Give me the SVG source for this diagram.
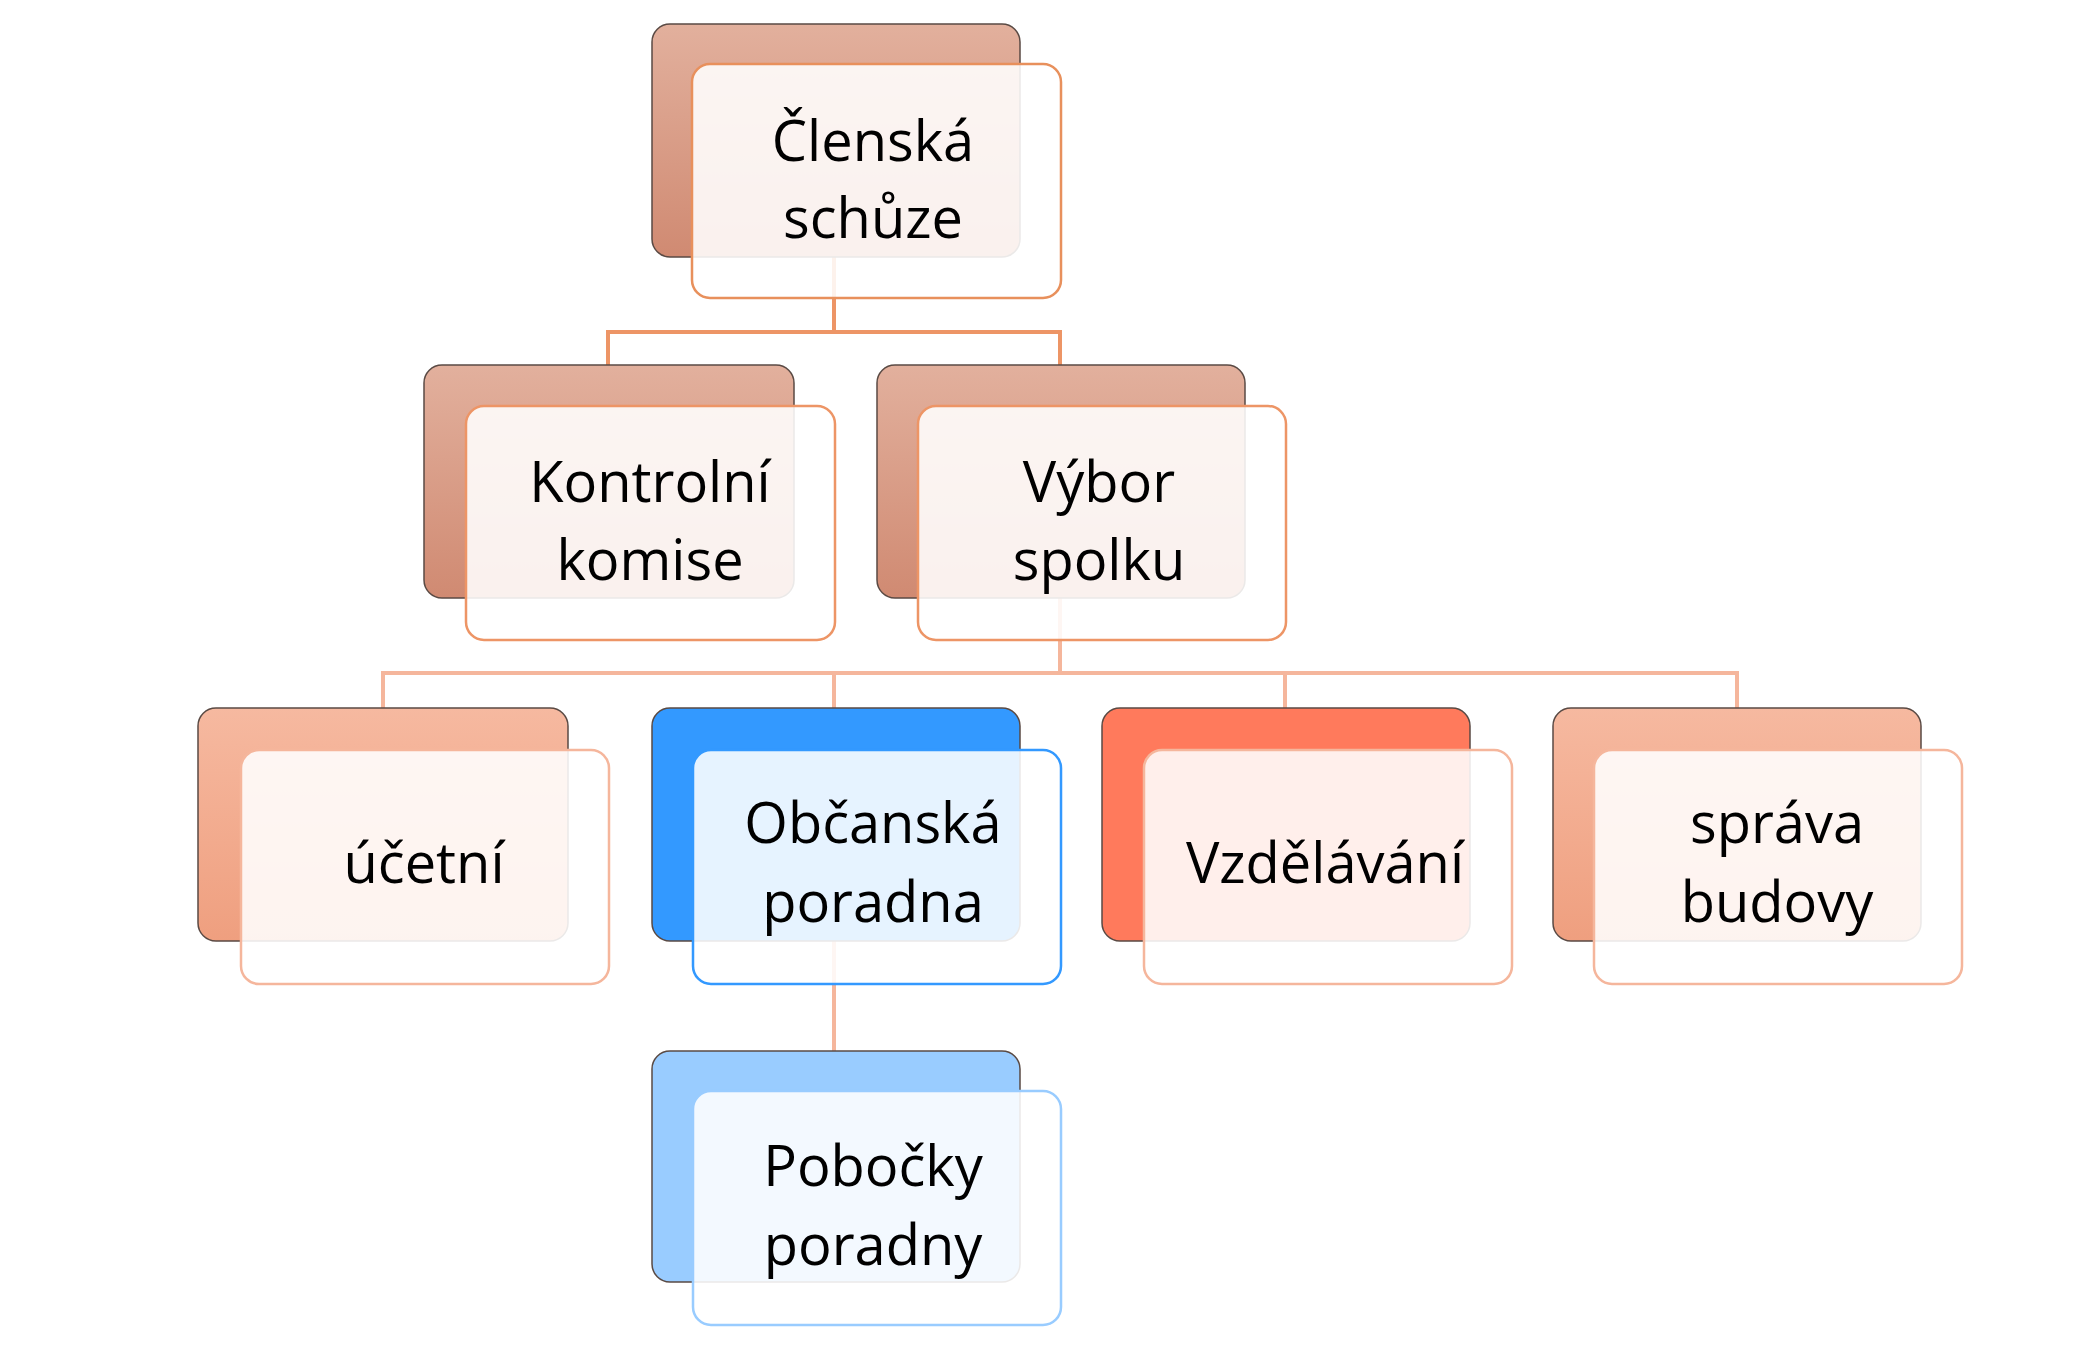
<svg xmlns="http://www.w3.org/2000/svg" width="2088" height="1366" viewBox="0 0 2088 1366">
<style>
.bk{stroke:#5a4a44;stroke-width:1.5}
.fr{fill:#ffffff;fill-opacity:0.88;stroke-width:2.5}
.t{font-family:"Open Sans","Noto Sans",sans-serif;font-size:56px;fill:#000;text-anchor:middle}
.c1{stroke:#ed9566;stroke-width:4;fill:none}
.c2{stroke:#f5b69c;stroke-width:4;fill:none}
</style>
<defs>
<linearGradient id="g1" x1="0" y1="0" x2="0" y2="1"><stop offset="0" stop-color="#e2b09d"/><stop offset="1" stop-color="#d08a72"/></linearGradient>
<linearGradient id="g2" x1="0" y1="0" x2="0" y2="1"><stop offset="0" stop-color="#f6b9a0"/><stop offset="1" stop-color="#ef9f7f"/></linearGradient>
</defs>
<rect width="2088" height="1366" fill="#fff"/>
<g id="connectors">
<path class="c1" d="M834 257V332M608 365V332H1060V365"/>
<path class="c2" d="M1060 598V673M383 708V673H1737V708M834 673V708M1285 673V708"/>
<path class="c2" d="M834 941V1051"/>
</g>
<g id="n1"><rect class="bk" x="652" y="24" width="368" height="233" rx="18" fill="url(#g1)"/><rect class="fr" x="692" y="64" width="369" height="234" rx="18" stroke="#e8905c"/><text class="t" x="873" y="161">Členská</text><text class="t" x="873" y="238">schůze</text></g>
<g id="n2"><rect class="bk" x="424" y="365" width="370" height="233" rx="18" fill="url(#g1)"/><rect class="fr" x="466" y="406" width="369" height="234" rx="18" stroke="#ed9566"/><text class="t" x="650" y="502">Kontrolní</text><text class="t" x="650" y="580">komise</text></g>
<g id="n3"><rect class="bk" x="877" y="365" width="368" height="233" rx="18" fill="url(#g1)"/><rect class="fr" x="918" y="406" width="368" height="234" rx="18" stroke="#ed9566"/><text class="t" x="1099" y="502">Výbor</text><text class="t" x="1099" y="580">spolku</text></g>
<g id="n4"><rect class="bk" x="198" y="708" width="370" height="233" rx="18" fill="url(#g2)"/><rect class="fr" x="241" y="750" width="368" height="234" rx="18" stroke="#f5b69c"/><text class="t" x="424" y="883">účetní</text></g>
<g id="n5"><rect class="bk" x="652" y="708" width="368" height="233" rx="18" fill="#3399ff"/><rect class="fr" x="693" y="750" width="368" height="234" rx="18" stroke="#3399ff" fill="#eef6ff"/><text class="t" x="873" y="843">Občanská</text><text class="t" x="873" y="922">poradna</text></g>
<g id="n6"><rect class="bk" x="1102" y="708" width="368" height="233" rx="18" fill="#ff7a5c"/><rect class="fr" x="1144" y="750" width="368" height="234" rx="18" stroke="#f5b69c"/><text class="t" x="1325" y="883">Vzdělávání</text></g>
<g id="n7"><rect class="bk" x="1553" y="708" width="368" height="233" rx="18" fill="url(#g2)"/><rect class="fr" x="1594" y="750" width="368" height="234" rx="18" stroke="#f5b69c"/><text class="t" x="1777" y="843">správa</text><text class="t" x="1777" y="922">budovy</text></g>
<g id="n8"><rect class="bk" x="652" y="1051" width="368" height="231" rx="18" fill="#99ccff"/><rect class="fr" x="693" y="1091" width="368" height="234" rx="18" stroke="#99ccff"/><text class="t" x="873" y="1186">Pobočky</text><text class="t" x="873" y="1265">poradny</text></g>
</svg>
